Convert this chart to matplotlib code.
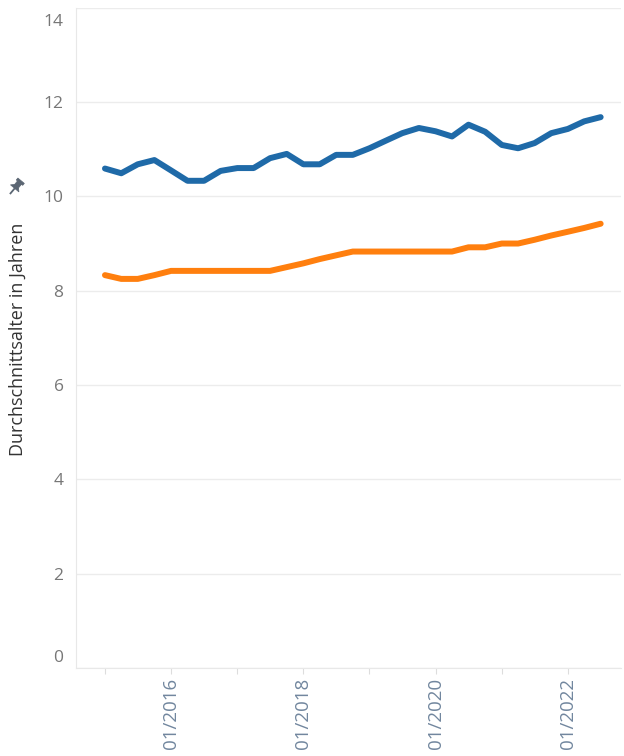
import pandas as pd
import matplotlib
matplotlib.use("Agg")
import matplotlib.pyplot as plt
import matplotlib.dates as mdates
import matplotlib.transforms as mtrans
from matplotlib.patches import Polygon
from matplotlib.lines import Line2D
import numpy as np

plt.rcParams['font.family'] = ['Open Sans', 'DejaVu Sans']

# Quartalswerte: Durchschnittsalter in Jahren
dates = ["2015-01-01", "2015-04-01", "2015-07-01", "2015-10-01",
         "2016-01-01", "2016-04-01", "2016-07-01", "2016-10-01",
         "2017-01-01", "2017-04-01", "2017-07-01", "2017-10-01",
         "2018-01-01", "2018-04-01", "2018-07-01", "2018-10-01",
         "2019-01-01", "2019-04-01", "2019-07-01", "2019-10-01",
         "2020-01-01", "2020-04-01", "2020-07-01", "2020-10-01",
         "2021-01-01", "2021-04-01", "2021-07-01", "2021-10-01",
         "2022-01-01", "2022-04-01", "2022-07-01"]
blue_values = [10.59, 10.49, 10.68, 10.77, 10.55, 10.33, 10.33, 10.54,
               10.60, 10.60, 10.81, 10.90, 10.68, 10.68, 10.88, 10.88,
               11.02, 11.18, 11.34, 11.45, 11.38, 11.27, 11.52, 11.37,
               11.09, 11.02, 11.13, 11.34, 11.43, 11.59, 11.68]
orange_values = [8.33, 8.25, 8.25, 8.33, 8.42, 8.42, 8.42, 8.42,
                 8.42, 8.42, 8.42, 8.50, 8.58, 8.67, 8.75, 8.83,
                 8.83, 8.83, 8.83, 8.83, 8.83, 8.83, 8.92, 8.92,
                 9.00, 9.00, 9.08, 9.17, 9.25, 9.33, 9.42]
y_ticks = [0, 2, 4, 6, 8, 10, 12, 14]
label_years = [2016, 2018, 2020, 2022]

x = pd.to_datetime(dates)

fig = plt.figure(figsize=(6.24, 7.56), dpi=100)
ax = fig.add_axes([0.1218, 0.1164, 0.873, 0.8734])

ax.plot(x, blue_values, color="#1f6aa8", linewidth=4.3, solid_capstyle="round",
        solid_joinstyle="round", zorder=3)
ax.plot(x, orange_values, color="#ff7f0e", linewidth=4.3, solid_capstyle="round",
        solid_joinstyle="round", zorder=3)

ax.set_ylim(0, 14)
ax.set_xlim(pd.Timestamp("2014-07-25"), pd.Timestamp("2022-10-20"))

ax.set_yticks(y_ticks)
ax.set_yticklabels([str(v) for v in y_ticks])
ax.yaxis.grid(True, color="#ececec", linewidth=1)
ax.xaxis.grid(False)
ax.tick_params(axis="y", length=0, pad=9, labelsize=12.5, labelcolor="#777777")

ax.xaxis.set_major_locator(mdates.YearLocator(1))
ax.xaxis.set_major_formatter(
    plt.FuncFormatter(lambda v, pos: "01/%d" % mdates.num2date(v).year
                      if mdates.num2date(v).year in label_years else ""))
ax.tick_params(axis="x", length=4, color="#dddddd", pad=3, labelsize=13.5,
               labelcolor="#71869e", labelrotation=90)
for lbl in ax.get_xticklabels():
    lbl.set_verticalalignment("top")
    lbl.set_horizontalalignment("center")

for side in ["top", "right"]:
    ax.spines[side].set_visible(False)
ax.spines["left"].set_color("#e8e8e8")
ax.spines["bottom"].set_color("#e8e8e8")

# Rand-Labels nach innen schieben wie im Original
ylabels = ax.get_yticklabels()
ylabels[0].set_transform(ylabels[0].get_transform() +
                         mtrans.ScaledTranslation(0, 12 / 100, fig.dpi_scale_trans))
ylabels[-1].set_transform(ylabels[-1].get_transform() +
                          mtrans.ScaledTranslation(0, -12 / 100, fig.dpi_scale_trans))

fig.text(18 / 624, 1 - 339 / 756, "Durchschnittsalter in Jahren", rotation=90,
         ha="center", va="center", fontsize=13, color="#333333")


# kleine Pinnadel (Pixel-Koordinaten, y nach oben) neben der Achsenbeschriftung
def pin_shape(pts, cx, cy, ang):
    pts = np.array(pts, dtype=float)
    c, s = np.cos(ang), np.sin(ang)
    rot = pts @ np.array([[c, s], [-s, c]])
    rot[:, 0] += cx
    rot[:, 1] += cy
    return np.column_stack([rot[:, 0] / 624, rot[:, 1] / 756])


cx, cy, ang = 15, 756 - 188, np.deg2rad(-40)
pin_col = "#5b6673"
parts = [
    [(-2.6, 1.5), (2.6, 1.5), (2.6, 7), (-2.6, 7)],      # Schaft
    [(-4.2, 7), (4.2, 7), (4.2, 9.5), (-4.2, 9.5)],      # Kopf
    [(-5.5, -0.5), (5.5, -0.5), (3, 2), (-3, 2)],        # Teller
]
for p in parts:
    fig.add_artist(Polygon(pin_shape(p, cx, cy, ang), closed=True,
                           facecolor=pin_col, edgecolor=pin_col, linewidth=0.5,
                           transform=fig.transFigure))
needle = pin_shape([(0, 0), (0, -7)], cx, cy, ang)
fig.add_artist(Line2D(needle[:, 0], needle[:, 1], color=pin_col, linewidth=1.3,
                      transform=fig.transFigure))

fig.savefig("out.png", dpi=100, facecolor="white")
